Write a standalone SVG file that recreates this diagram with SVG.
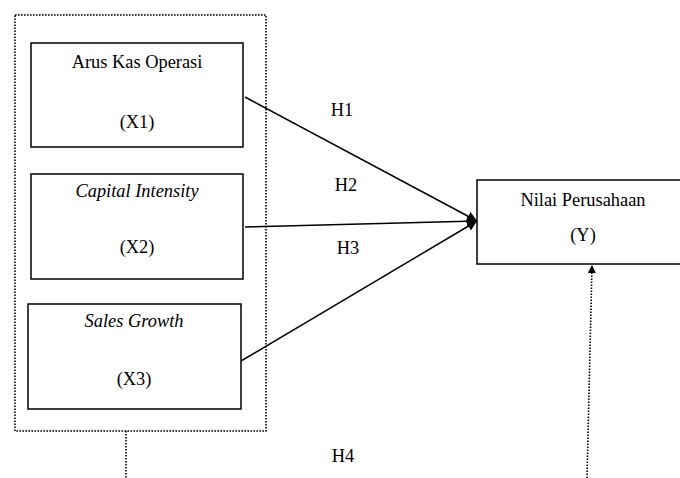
<svg xmlns="http://www.w3.org/2000/svg" width="680" height="478" viewBox="0 0 680 478">
<style>
.box{fill:#fff;stroke:#000;stroke-width:1.5}
.dot{fill:none;stroke:#000;stroke-width:1.6;stroke-dasharray:1.6,1.4}
.ln{fill:none;stroke:#000;stroke-width:1.5}
text{font-family:"Liberation Serif","Times New Roman",serif;font-size:18.4px;fill:#000;text-anchor:middle}
.it{font-style:italic}
</style>
<defs>
<marker id="ah" viewBox="0 0 10 10" refX="10" refY="5" markerWidth="10" markerHeight="10" markerUnits="userSpaceOnUse" orient="auto">
<path d="M0,0 L10,5 L0,10 z" fill="#000"/>
</marker>
<marker id="ah2" viewBox="0 0 10 10" refX="10" refY="5" markerWidth="9" markerHeight="8" markerUnits="userSpaceOnUse" orient="auto">
<path d="M0,0 L10,5 L0,10 z" fill="#000"/>
</marker>
</defs>
<g id="group-x">
<rect class="dot" x="15" y="15" width="251" height="416"/>
</g>
<g id="x1">
<rect class="box" x="31" y="43" width="212" height="104"/>
<text x="137" y="68">Arus Kas Operasi</text>
<text x="137" y="128">(X1)</text>
</g>
<g id="x2">
<rect class="box" x="31" y="174" width="212" height="105"/>
<text class="it" x="137" y="197">Capital Intensity</text>
<text x="137" y="253">(X2)</text>
</g>
<g id="x3">
<rect class="box" x="28" y="304" width="213" height="105"/>
<text class="it" x="134" y="327">Sales Growth</text>
<text x="134" y="385">(X3)</text>
</g>
<g id="y">
<rect class="box" x="477" y="180" width="215" height="84"/>
<text x="583" y="206">Nilai Perusahaan</text>
<text x="583" y="241">(Y)</text>
</g>
<g id="connectors">
<line class="ln" x1="245" y1="97" x2="477" y2="221" marker-end="url(#ah)"/>
<line class="ln" x1="245" y1="227" x2="477" y2="221" marker-end="url(#ah)"/>
<line class="ln" x1="241" y1="361" x2="477" y2="221" marker-end="url(#ah)"/>
<line class="dot" x1="126" y1="431" x2="126" y2="478"/>
<line class="dot" x1="587" y1="478" x2="592" y2="265" marker-end="url(#ah2)"/>
</g>
<g id="labels">
<text x="342" y="116">H1</text>
<text x="346" y="191">H2</text>
<text x="348" y="254">H3</text>
<text x="343" y="462">H4</text>
</g>
</svg>
